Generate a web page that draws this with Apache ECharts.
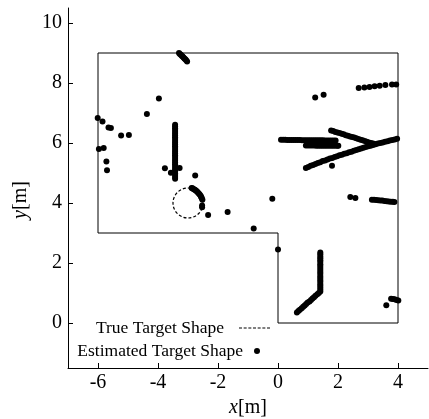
<!DOCTYPE html>
<html>
<head>
<meta charset="utf-8">
<script src="https://cdn.jsdelivr.net/npm/echarts@6/dist/echarts.min.js"></script>
<style>html,body{margin:0;padding:0;background:#fff}#c{width:429px;height:419px}</style>
</head>
<body>
<div id="c"></div>
<script>
// ---- data ----
var xTicks = [-6, -4, -2, 0, 2, 4];
var yTicks = [0, 2, 4, 6, 8, 10];
var frameShape = [[-6, 9], [4, 9], [4, 0], [0, 0], [0, 3], [-6, 3], [-6, 9]];
var trueTarget = [[-3, 4, 0.5]]; // centre x, centre y, radius
var isolatedDots = [[-6.01,6.83],[-5.85,6.72],[-5.65,6.52],[-5.57,6.50],[-5.23,6.25],[-4.97,6.27],[-4.37,6.97],[-3.97,7.48],
  [-5.97,5.80],[-5.81,5.83],[-5.72,5.38],[-5.70,5.09],[-3.77,5.16],[-3.57,5.01],[-3.28,5.17],[-2.76,4.92],[-2.33,3.60],
  [-1.68,3.70],[-0.81,3.15],[-0.19,4.14],[0.00,2.45],[1.24,7.52],[1.52,7.61],[1.80,5.24],[2.41,4.20],[2.58,4.17],[3.61,0.59]];
var topRowDots = [[2.69,7.83],[2.88,7.85],[3.05,7.87],[3.22,7.89],[3.39,7.91],[3.58,7.93],[3.80,7.95],[3.94,7.95]];
var topDiagDots = [[-3.30,9.00],[-3.27,8.97],[-3.24,8.94],[-3.21,8.91],[-3.18,8.88],[-3.15,8.85],[-3.12,8.82],[-3.09,8.79],[-3.06,8.76],[-3.03,8.72]];
var verticalDots = [[-3.43,6.61],[-3.43,6.55],[-3.43,6.49],[-3.43,6.43],[-3.43,6.37],[-3.43,6.31],[-3.43,6.25],[-3.43,6.19],
  [-3.43,6.13],[-3.43,6.07],[-3.43,6.01],[-3.43,5.95],[-3.43,5.89],[-3.43,5.83],[-3.43,5.77],[-3.43,5.71],[-3.43,5.65],
  [-3.43,5.59],[-3.43,5.53],[-3.43,5.47],[-3.43,5.41],[-3.43,5.35],[-3.43,5.29],[-3.43,5.23],[-3.43,5.17],[-3.43,5.11],
  [-3.43,5.05],[-3.43,4.99],[-3.43,4.93],[-3.43,4.87],[-3.43,4.81]];
var arcDots = [[-2.88,4.50],[-2.85,4.49],[-2.82,4.47],[-2.79,4.45],[-2.76,4.43],[-2.73,4.41],[-2.70,4.38],[-2.67,4.35],
  [-2.64,4.32],[-2.61,4.28],[-2.58,4.24],[-2.56,4.20],[-2.54,4.16],[-2.52,4.11],[-2.53,3.92],[-2.53,3.86]];
var horizADots = [[0.10,6.11],[0.17,6.11],[0.24,6.11],[0.31,6.10],[0.38,6.10],[0.45,6.10],[0.52,6.10],[0.59,6.10],[0.66,6.10],
  [0.73,6.10],[0.80,6.09],[0.87,6.09],[0.94,6.09],[1.01,6.09],[1.08,6.09],[1.15,6.09],[1.22,6.09],[1.29,6.09],[1.36,6.09],
  [1.43,6.09],[1.50,6.09],[1.57,6.08],[1.64,6.08],[1.71,6.08],[1.78,6.08],[1.85,6.08],[1.92,6.08]];
var horizBDots = [[0.93,5.92],[1.00,5.92],[1.07,5.92],[1.14,5.92],[1.21,5.92],[1.28,5.91],[1.35,5.91],[1.42,5.91],[1.49,5.91],
  [1.56,5.91],[1.63,5.91],[1.70,5.91],[1.77,5.91],[1.84,5.91],[1.91,5.91],[1.98,5.91],[2.01,5.91]];
var descDots = [[1.77,6.42],[1.84,6.40],[1.91,6.37],[1.98,6.35],[2.05,6.33],[2.12,6.31],[2.19,6.29],[2.26,6.26],[2.33,6.24],
  [2.40,6.22],[2.47,6.20],[2.54,6.18],[2.61,6.16],[2.68,6.13],[2.75,6.11],[2.82,6.09],[2.89,6.07],[2.96,6.04],[3.03,6.02],
  [3.10,6.00],[3.17,5.98],[3.21,5.97]];
var risingDots = [[0.93,5.17],[1.01,5.20],[1.09,5.24],[1.17,5.27],[1.25,5.30],[1.33,5.33],[1.41,5.36],[1.49,5.40],[1.57,5.42],
  [1.65,5.45],[1.73,5.48],[1.81,5.50],[1.89,5.53],[1.97,5.56],[2.05,5.59],[2.13,5.61],[2.21,5.64],[2.29,5.66],[2.37,5.69],
  [2.45,5.71],[2.53,5.74],[2.61,5.77],[2.69,5.79],[2.77,5.82],[2.85,5.84],[2.93,5.87],[3.01,5.89],[3.09,5.91],[3.17,5.93],
  [3.25,5.96],[3.33,5.98],[3.41,6.00],[3.49,6.02],[3.57,6.04],[3.65,6.06],[3.73,6.08],[3.81,6.10],[3.89,6.12],[3.97,6.14]];
var rightLineDots = [[3.13,4.11],[3.20,4.11],[3.27,4.10],[3.34,4.09],[3.41,4.08],[3.48,4.08],[3.55,4.07],[3.62,4.06],
  [3.69,4.05],[3.76,4.04],[3.83,4.04],[3.88,4.03]];
var lShapeDots = [[1.41,2.35],[1.41,2.29],[1.41,2.22],[1.41,2.16],[1.41,2.09],[1.41,2.03],[1.41,1.96],[1.41,1.90],[1.41,1.83],
  [1.41,1.77],[1.41,1.70],[1.41,1.64],[1.41,1.57],[1.41,1.51],[1.41,1.44],[1.41,1.38],[1.41,1.31],[1.41,1.25],[1.41,1.18],
  [1.41,1.12],[1.41,1.05],[1.36,1.00],[1.31,0.96],[1.25,0.91],[1.20,0.86],[1.15,0.82],[1.10,0.77],[1.05,0.72],[0.99,0.68],
  [0.94,0.63],[0.89,0.58],[0.84,0.54],[0.79,0.49],[0.73,0.44],[0.68,0.40],[0.63,0.35]];
var lowerRightDots = [[3.77,0.81],[3.83,0.80],[3.89,0.79],[3.95,0.77],[4.01,0.75]];

var estimatedDots = [].concat(isolatedDots, topRowDots, topDiagDots, verticalDots, arcDots, horizADots,
  horizBDots, descDots, risingDots, rightLineDots, lShapeDots, lowerRightDots);

// ---- chart ----
var FONT = "'Liberation Serif','Times New Roman',serif";
var chart = echarts.init(document.getElementById('c'));
var axisCommon = {
  axisLine: {show: true, onZero: false, lineStyle: {color: '#000', width: 1}},
  axisTick: {show: true, inside: true, length: 5, lineStyle: {color: '#000'}},
  splitLine: {show: false}
};
var dashPath = 'path://M0,0h3v1h-3z M4.7,0h3v1h-3z M9.4,0h3v1h-3z M14.1,0h3v1h-3z M18.8,0h3v1h-3z M23.5,0h3v1h-3z M28.2,0h3v1h-3z';
chart.setOption({
  animation: false,
  backgroundColor: '#fff',
  grid: {left: 68, right: 1, top: 8, bottom: 51, containLabel: false, outerBoundsMode: 'none'},
  xAxis: Object.assign({}, axisCommon, {
    type: 'value', min: -7, max: 5,
    axisTick: Object.assign({}, axisCommon.axisTick, {customValues: xTicks}),
    axisLabel: {customValues: xTicks, color: '#000', fontFamily: FONT, fontSize: 20, margin: 5},
    name: '{i|x}[m]', nameLocation: 'middle', nameGap: 28,
    nameTextStyle: {color: '#000', fontFamily: FONT, fontSize: 20,
      rich: {i: {fontStyle: 'italic', fontFamily: FONT, fontSize: 20, color: '#000'}}}
  }),
  yAxis: Object.assign({}, axisCommon, {
    type: 'value', min: -1.5, max: 10.5,
    axisTick: Object.assign({}, axisCommon.axisTick, {customValues: yTicks}),
    axisLabel: {customValues: yTicks, color: '#000', fontFamily: FONT, fontSize: 20, margin: 6},
    name: '{i|y}[m]', nameLocation: 'middle', nameGap: 36,
    nameTextStyle: {color: '#000', fontFamily: FONT, fontSize: 20, padding: [0, 24, 0, 0],
      rich: {i: {fontStyle: 'italic', fontFamily: FONT, fontSize: 20, color: '#000'}}}
  }),
  legend: [
    {data: [{name: 'True Target Shape', icon: dashPath}], align: 'right', right: 159, top: 318, padding: 0,
      itemWidth: 31, itemHeight: 1.2, selectedMode: false,
      textStyle: {color: '#000', fontFamily: FONT, fontSize: 17.5, lineHeight: 20, padding: [0, 10, 0, 0]}},
    {data: [{name: 'Estimated Target Shape', icon: 'circle'}], align: 'right', right: 169, top: 341, padding: 0,
      itemWidth: 6, itemHeight: 6, selectedMode: false,
      textStyle: {color: '#000', fontFamily: FONT, fontSize: 17.5, lineHeight: 20, padding: [0, 6, 0, 0]}}
  ],
  series: [
    {type: 'line', name: 'frame', data: frameShape, symbol: 'none', silent: true,
      lineStyle: {color: '#000', width: 1}, z: 1},
    {type: 'custom', name: 'True Target Shape', data: trueTarget, itemStyle: {color: '#000'}, z: 2,
      renderItem: function (params, api) {
        var c = api.coord([api.value(0), api.value(1)]);
        var s = api.size([api.value(2), api.value(2)]);
        return {type: 'circle', shape: {cx: c[0], cy: c[1], r: s[0]},
          style: {fill: 'none', stroke: '#000', lineWidth: 1.2, lineDash: [3, 2]}};
      }},
    {type: 'scatter', name: 'Estimated Target Shape', data: estimatedDots, symbol: 'circle', symbolSize: 6,
      itemStyle: {color: '#000', opacity: 1}, z: 3}
  ]
});
</script>
</body>
</html>
